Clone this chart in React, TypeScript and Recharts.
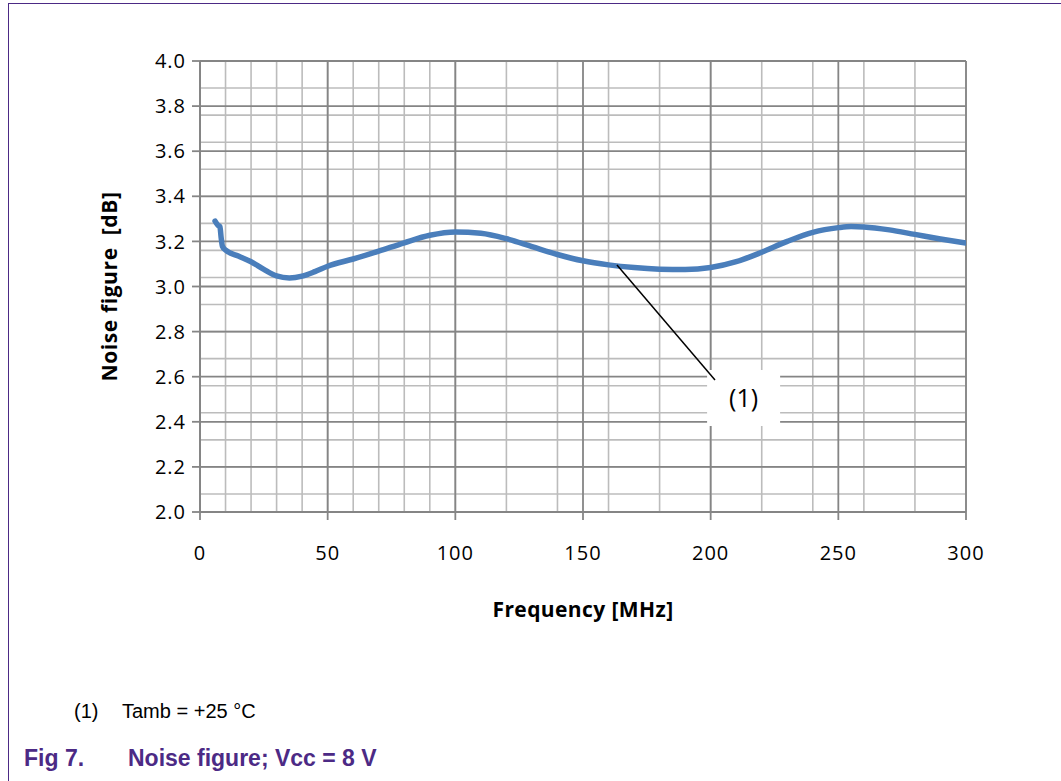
import React from 'react';
import { LineChart, Line, XAxis, YAxis, CartesianGrid, ReferenceLine, ReferenceArea, Label } from 'recharts';

// frequency [MHz] and noise figure [dB]
const freq = [5.9, 7.0, 7.8, 8.3, 8.8, 10, 15, 20, 25, 30, 35, 40, 45, 50, 60, 70, 80, 90, 100, 110, 120, 130, 140, 150, 160, 170, 180, 190, 200, 210, 220, 230, 240, 250, 255, 260, 270, 280, 290, 300];
const noise = [3.29, 3.272, 3.265, 3.215, 3.178, 3.162, 3.135, 3.11, 3.076, 3.047, 3.038, 3.046, 3.066, 3.09, 3.122, 3.157, 3.194, 3.227, 3.242, 3.236, 3.212, 3.177, 3.142, 3.114, 3.096, 3.084, 3.077, 3.075, 3.084, 3.11, 3.152, 3.2, 3.24, 3.261, 3.266, 3.264, 3.251, 3.231, 3.211, 3.193];

const xTicks = [0, 50, 100, 150, 200, 250, 300];
const yTicks = [2.0, 2.2, 2.4, 2.6, 2.8, 3.0, 3.2, 3.4, 3.6, 3.8, 4.0];
const xMinor = Array.from({ length: 31 }, (_, i) => i * 10);
const yMinor = Array.from({ length: 51 }, (_, i) => +(2 + i * 0.04).toFixed(2));

// callout "(1)" pointer and box
const calloutFrom = { x: 163.3, y: 3.095 };
const calloutTo = { x: 201.7, y: 2.585 };
const calloutBox = { x1: 198.6, x2: 227.2, y1: 2.381, y2: 2.63 };

const data = freq.map((f, i) => ({ f, nf: noise[i] }));

const chartFont = "'Open Sans', sans-serif";
const majorGrid = '#858585';
const minorGrid = '#bcbcbc';
const purple = '#4c2a85';

export default function App() {
  return (
    <div style={{ position: 'absolute', left: 0, top: 0, width: 1061, height: 781, background: '#fff', fontFamily: "'Liberation Sans', Arial, sans-serif" }}>
      {/* page frame */}
      <div style={{ position: 'absolute', left: 8, top: 3, right: 0, bottom: 0, borderTop: `1.5px solid ${purple}`, borderLeft: `1.5px solid ${purple}` }} />

      <div style={{ position: 'absolute', left: 0, top: 0 }}>
        <LineChart width={1061} height={781} data={data} margin={{ top: 61, right: 95, left: 110, bottom: 159 }}>
          <XAxis xAxisId="minor" dataKey="f" type="number" domain={[0, 300]} ticks={xMinor} allowDataOverflow hide />
          <YAxis yAxisId="minor" type="number" domain={[2, 4]} ticks={yMinor} allowDataOverflow hide />
          <CartesianGrid xAxisId="minor" yAxisId="minor" stroke={minorGrid} strokeWidth={1.6} />
          <CartesianGrid stroke={majorGrid} strokeWidth={1.8} />

          <XAxis
            dataKey="f"
            type="number"
            domain={[0, 300]}
            ticks={xTicks}
            allowDataOverflow
            height={110}
            stroke={majorGrid}
            strokeWidth={1.8}
            tickSize={8}
            tickMargin={26}
            tick={{ fontSize: 20, fill: '#000', fontFamily: chartFont, letterSpacing: 1 }}
          >
            <Label value="Frequency [MHz]" position="insideBottom" offset={5} style={{ fontSize: 21, fontWeight: 700, fill: '#000', fontFamily: chartFont, letterSpacing: 0.4 }} />
          </XAxis>
          <YAxis
            type="number"
            domain={[2, 4]}
            ticks={yTicks}
            allowDataOverflow
            width={90}
            stroke={majorGrid}
            strokeWidth={1.8}
            tickSize={8}
            tickMargin={6}
            tickFormatter={(v: number) => v.toFixed(1)}
            tick={{ fontSize: 20, fill: '#000', fontFamily: chartFont, letterSpacing: 1 }}
          >
            <Label value={'Noise figure\u00a0\u00a0[dB]'} angle={-90} position="insideLeft" offset={0} style={{ fontSize: 21, fontWeight: 700, fill: '#000', fontFamily: chartFont, textAnchor: 'middle', letterSpacing: 0.6 }} />
          </YAxis>

          <Line
            type="monotone"
            dataKey="nf"
            stroke="#4a7ebb"
            strokeWidth={5.5}
            strokeLinecap="round"
            dot={false}
            activeDot={false}
            isAnimationActive={false}
          />

          <ReferenceLine segment={[calloutFrom, calloutTo]} stroke="#000" strokeWidth={1.5} />
          <ReferenceArea
            x1={calloutBox.x1}
            x2={calloutBox.x2}
            y1={calloutBox.y1}
            y2={calloutBox.y2}
            fill="#fff"
            fillOpacity={1}
            stroke="none"
          >
            <Label value="(1)" position="center" style={{ fontSize: 25, fill: '#000', fontFamily: chartFont }} />
          </ReferenceArea>
        </LineChart>
      </div>

      <div style={{ position: 'absolute', left: 74, top: 700, fontSize: 20, color: '#000' }}>(1)</div>
      <div style={{ position: 'absolute', left: 122, top: 700, fontSize: 20, color: '#000' }}>Tamb = +25 °C</div>
      <div style={{ position: 'absolute', left: 24, top: 745, fontSize: 23, fontWeight: 700, color: purple }}>Fig 7.</div>
      <div style={{ position: 'absolute', left: 128, top: 745, fontSize: 23, fontWeight: 700, color: purple }}>Noise figure; Vcc = 8 V</div>
    </div>
  );
}
